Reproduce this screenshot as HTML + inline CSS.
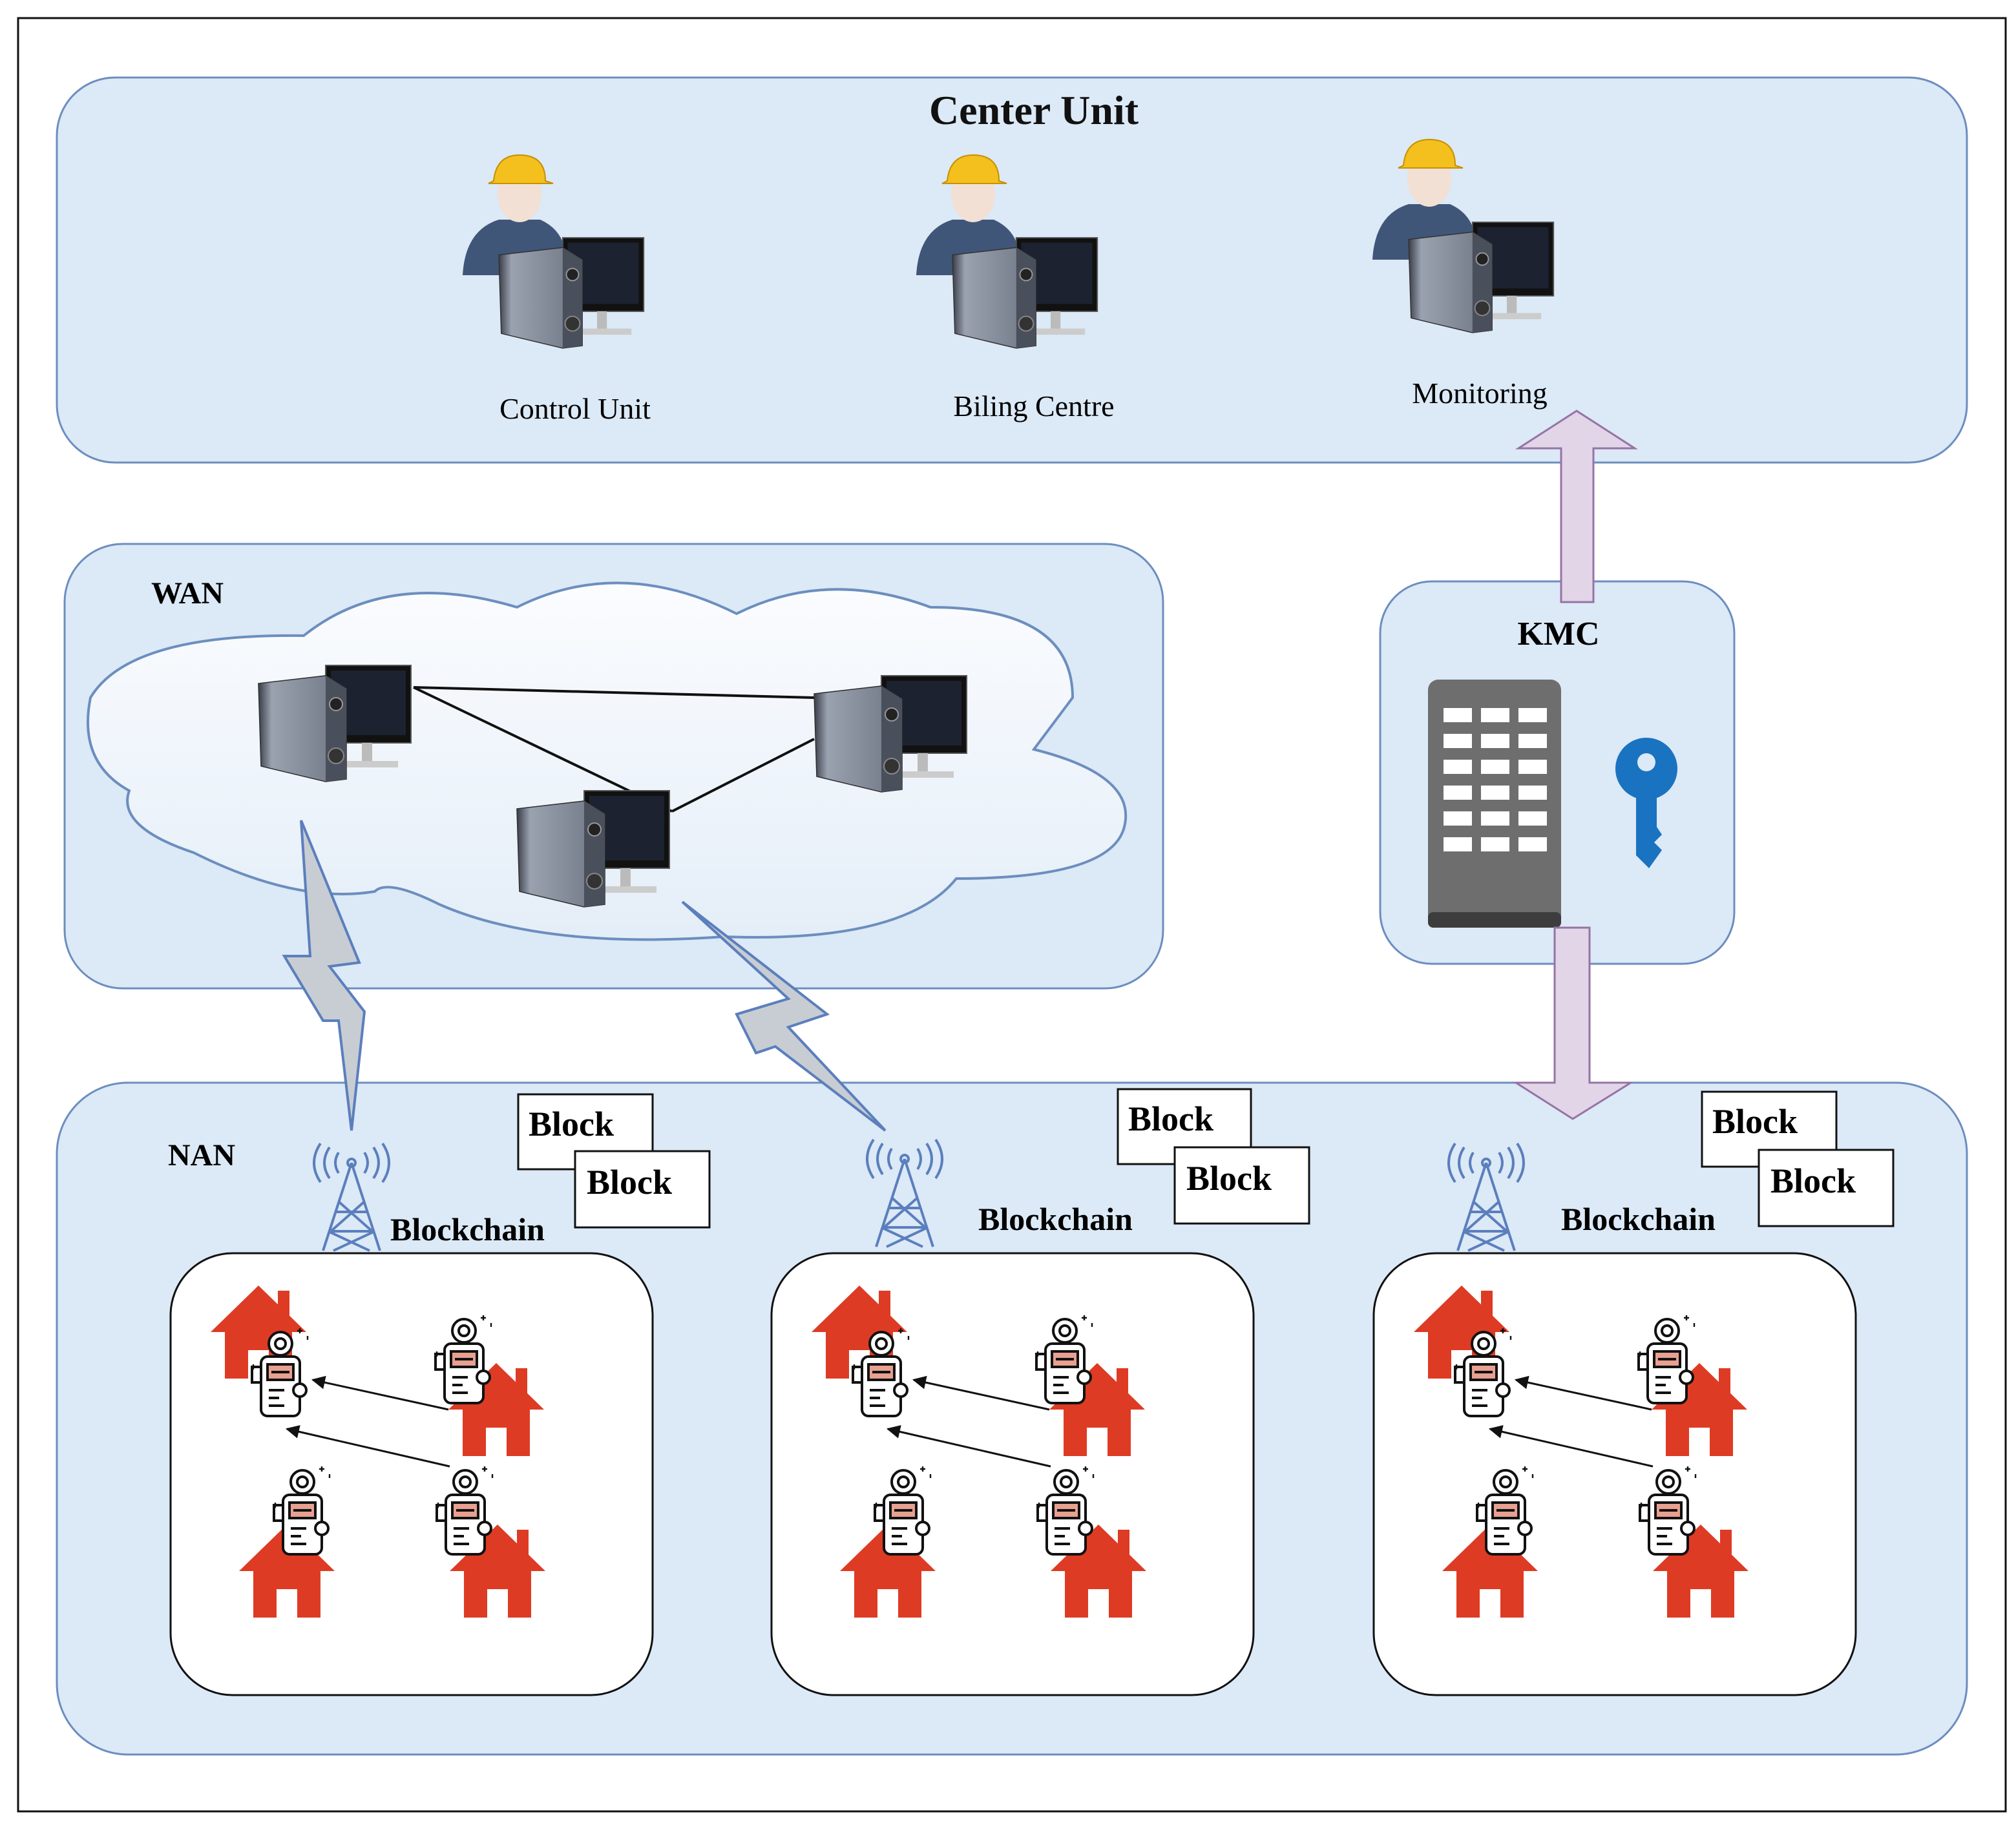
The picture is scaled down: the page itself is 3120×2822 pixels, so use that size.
<!DOCTYPE html>
<html><head><meta charset="utf-8"><style>html,body{margin:0;padding:0;background:#fff}svg{display:block}</style></head><body>
<svg width="3120" height="2822" viewBox="0 0 1560 1411" xmlns="http://www.w3.org/2000/svg" font-family="Liberation Serif, serif">
<defs>
<linearGradient id="cl" x1="0" y1="0" x2="0" y2="1"><stop offset="0" stop-color="#fbfcfe"/><stop offset="1" stop-color="#e4eef8"/></linearGradient>
<linearGradient id="tw" x1="0" y1="0" x2="1" y2="0"><stop offset="0" stop-color="#3a3d48"/><stop offset=".15" stop-color="#9aa2b0"/><stop offset="1" stop-color="#6d7482"/></linearGradient>
<g id="pc">
<rect x="52" y="0" width="66" height="60" fill="#111" stroke="#555"/>
<rect x="56" y="4" width="58" height="50" fill="#1c2230"/>
<rect x="80" y="60" width="8" height="16" fill="#bbb"/><rect x="64" y="74" width="44" height="5" fill="#ccc"/>
<polygon points="0,14 52,8 68,18 68,88 52,90 2,78" fill="url(#tw)" stroke="#333" stroke-width=".8"/>
<polygon points="52,8 68,18 68,88 52,90" fill="#4a4f5c"/>
<circle cx="60" cy="30" r="5" fill="#222" stroke="#999"/>
<circle cx="60" cy="70" r="6" fill="#333" stroke="#888"/>
</g>
<g id="worker">
<path d="M2,95 Q4,60 30,52 L62,52 Q80,60 82,80 L82,95 Z" fill="#3f5678"/>
<ellipse cx="46" cy="32" rx="17" ry="22" fill="#f3e0d4"/>
<path d="M26,22 Q28,2 46,2 Q66,2 66,22 L72,24 L22,24 Z" fill="#f4c01e" stroke="#c89000" stroke-width="1"/>
<use href="#pc" transform="translate(30,66) scale(.95)"/>
</g>
<g id="house"><path d="M37,0 L74,36 L63,36 L63,72 L45,72 L45,50 L29,50 L29,72 L11,72 L11,36 L0,36 Z" fill="#de3b24"/><rect x="52" y="4" width="9" height="20" fill="#de3b24"/></g>
<g id="meter" fill="none" stroke="#111" stroke-width="2">
<rect x="10" y="22" width="30" height="46" rx="5" fill="#fff"/>
<circle cx="25" cy="12" r="9" fill="#fff"/><circle cx="25" cy="12" r="4"/>
<rect x="15" y="28" width="20" height="12" fill="#e8a090"/><line x1="18" y1="34" x2="32" y2="34"/>
<rect x="3" y="30" width="7" height="12" fill="#fff"/>
<line x1="16" y1="48" x2="28" y2="48"/><line x1="16" y1="54" x2="24" y2="54"/><line x1="16" y1="60" x2="28" y2="60"/>
<circle cx="40" cy="48" r="5" fill="#fff"/>
<path d="M40,0 l0,4 M38,2 l4,0 M46,6 l0,3" stroke-width="1.2"/>
<path d="M2,30 l4,0 M4,28 l0,4" stroke-width="1.2"/>
</g>
<g id="tower" fill="none" stroke="#5b7fbd" stroke-width="2">
<path d="M30,12 L8,80 M30,12 L52,80 M18,50 L42,50 M14,65 L46,65 M20,42 L46,65 M40,42 L14,65 M12,65 L44,80 M48,65 L16,80"/>
<circle cx="30" cy="12" r="3"/>
<path d="M20,4 Q15,12 20,20 M40,4 Q45,12 40,20 M13,0 Q5,12 13,24 M47,0 Q55,12 47,24 M6,-3 Q-4,12 6,27 M54,-3 Q64,12 54,27"/>
</g>
<marker id="ah" viewBox="0 0 10 10" refX="9" refY="5" markerWidth="7" markerHeight="7" orient="auto"><path d="M0,0 L10,5 L0,10 z" fill="#111"/></marker>
<g id="grp">
<rect x="0" y="0" width="373" height="342" rx="48" fill="#fff" stroke="#111" stroke-width="1.5"/>
<use href="#house" transform="translate(31,25)"/>
<use href="#house" transform="translate(215,85)"/>
<use href="#house" transform="translate(53,210)"/>
<use href="#house" transform="translate(216,210)"/>
<use href="#meter" transform="translate(60,58)"/>
<use href="#meter" transform="translate(202,48)"/>
<use href="#meter" transform="translate(77,165)"/>
<use href="#meter" transform="translate(203,165)"/>
<line x1="215" y1="121" x2="110" y2="98" stroke="#111" stroke-width="1.5" marker-end="url(#ah)"/>
<line x1="216" y1="165" x2="90" y2="136" stroke="#111" stroke-width="1.5" marker-end="url(#ah)"/>
</g>
</defs>
<rect x="14" y="14" width="1538" height="1388" fill="#fff" stroke="#111" stroke-width="1.5"/>
<rect x="44" y="60" width="1478" height="298" rx="45" fill="#dce9f6" stroke="#6c8ebf" stroke-width="1.5"/>
<text x="800" y="96" font-size="32" font-weight="bold" text-anchor="middle" fill="#111">Center Unit</text>
<use href="#worker" transform="translate(356,118)"/>
<use href="#worker" transform="translate(707,118)"/>
<use href="#worker" transform="translate(1060,106)"/>
<text x="445" y="324" font-size="23" text-anchor="middle">Control Unit</text>
<text x="800" y="322" font-size="23" text-anchor="middle">Biling Centre</text>
<text x="1145" y="312" font-size="23" text-anchor="middle">Monitoring</text>
<rect x="50" y="421" width="850" height="344" rx="45" fill="#dce9f6" stroke="#6c8ebf" stroke-width="1.5"/>
<path d="M235,492 Q300,440 400,470 Q480,430 570,475 Q640,440 720,470 Q830,470 830,540 Q800,580 800,580 Q880,600 870,640 Q860,680 740,680 Q700,730 560,725 Q420,735 340,700 Q300,680 290,690 Q230,700 150,660 Q90,640 100,612 Q60,590 70,540 Q100,490 235,492 Z" fill="url(#cl)" stroke="#6c8ebf" stroke-width="2"/>
<text x="117" y="467" font-size="24" font-weight="bold">WAN</text>
<g stroke="#111" stroke-width="2"><line x1="320" y1="532" x2="630" y2="540"/><line x1="320" y1="532" x2="520" y2="628"/><line x1="520" y1="628" x2="630" y2="572"/></g>
<use href="#pc" transform="translate(200,515)"/>
<use href="#pc" transform="translate(630,523)"/>
<use href="#pc" transform="translate(400,612)"/>
<rect x="1068" y="450" width="274" height="296" rx="40" fill="#dce9f6" stroke="#6c8ebf" stroke-width="1.5"/>
<text x="1206" y="499" font-size="26" font-weight="bold" text-anchor="middle">KMC</text>
<rect x="1105" y="526" width="103" height="192" rx="8" fill="#6e6e6e"/>
<rect x="1105" y="706" width="103" height="12" rx="4" fill="#3d3d3d"/>
<g fill="#fff">
<rect x="1117" y="548" width="22" height="11"/><rect x="1146" y="548" width="22" height="11"/><rect x="1175" y="548" width="22" height="11"/>
<rect x="1117" y="568" width="22" height="11"/><rect x="1146" y="568" width="22" height="11"/><rect x="1175" y="568" width="22" height="11"/>
<rect x="1117" y="588" width="22" height="11"/><rect x="1146" y="588" width="22" height="11"/><rect x="1175" y="588" width="22" height="11"/>
<rect x="1117" y="608" width="22" height="11"/><rect x="1146" y="608" width="22" height="11"/><rect x="1175" y="608" width="22" height="11"/>
<rect x="1117" y="628" width="22" height="11"/><rect x="1146" y="628" width="22" height="11"/><rect x="1175" y="628" width="22" height="11"/>
<rect x="1117" y="648" width="22" height="11"/><rect x="1146" y="648" width="22" height="11"/><rect x="1175" y="648" width="22" height="11"/>
</g>
<circle cx="1274" cy="595" r="24" fill="#1a73c0"/><circle cx="1274" cy="590" r="7" fill="#dce9f6"/>
<path d="M1266,612 L1282,612 L1282,640 L1286,646 L1280,652 L1286,658 L1276,672 L1266,662 Z" fill="#1a73c0"/>
<polygon points="1208,466 1233,466 1233,347 1265,347 1220,318 1175,347 1208,347" fill="#e1d5e7" stroke="#9673a6" stroke-width="1.5"/>
<rect x="44" y="838" width="1478" height="520" rx="55" fill="#dce9f6" stroke="#6c8ebf" stroke-width="1.5"/>
<polygon points="1203,718 1230,718 1230,838 1262,838 1217,866 1173,838 1203,838" fill="#e1d5e7" stroke="#9673a6" stroke-width="1.5"/>
<polygon points="233,635 278,745 255,748 282,783 272,875 262,790 250,790 220,740 240,740" fill="#c8cdd3" stroke="#5b7fbd" stroke-width="2"/>
<polygon points="528,698 640,785 610,795 685,875 600,810 585,815 570,785 610,773" fill="#c8cdd3" stroke="#5b7fbd" stroke-width="2"/>
<text x="130" y="902" font-size="24" font-weight="bold">NAN</text>
<use href="#tower" transform="translate(242,888)"/>
<use href="#tower" transform="translate(670,885)"/>
<use href="#tower" transform="translate(1120,888)"/>
<g fill="#fff" stroke="#111" stroke-width="1.5">
<rect x="401" y="847" width="104" height="58"/><rect x="445" y="891" width="104" height="59"/>
<rect x="865" y="843" width="103" height="58"/><rect x="909" y="888" width="104" height="59"/>
<rect x="1317" y="845" width="104" height="58"/><rect x="1361" y="890" width="104" height="59"/>
</g>
<g font-size="27" font-weight="bold">
<text x="409" y="879">Block</text><text x="454" y="924">Block</text>
<text x="873" y="875">Block</text><text x="918" y="921">Block</text>
<text x="1325" y="877">Block</text><text x="1370" y="923">Block</text>
</g>
<g font-size="25" font-weight="bold">
<text x="302" y="960">Blockchain</text><text x="757" y="952">Blockchain</text><text x="1208" y="952">Blockchain</text>
</g>
<use href="#grp" transform="translate(132,970)"/>
<use href="#grp" transform="translate(597,970)"/>
<use href="#grp" transform="translate(1063,970)"/>
</svg>
</body></html>
